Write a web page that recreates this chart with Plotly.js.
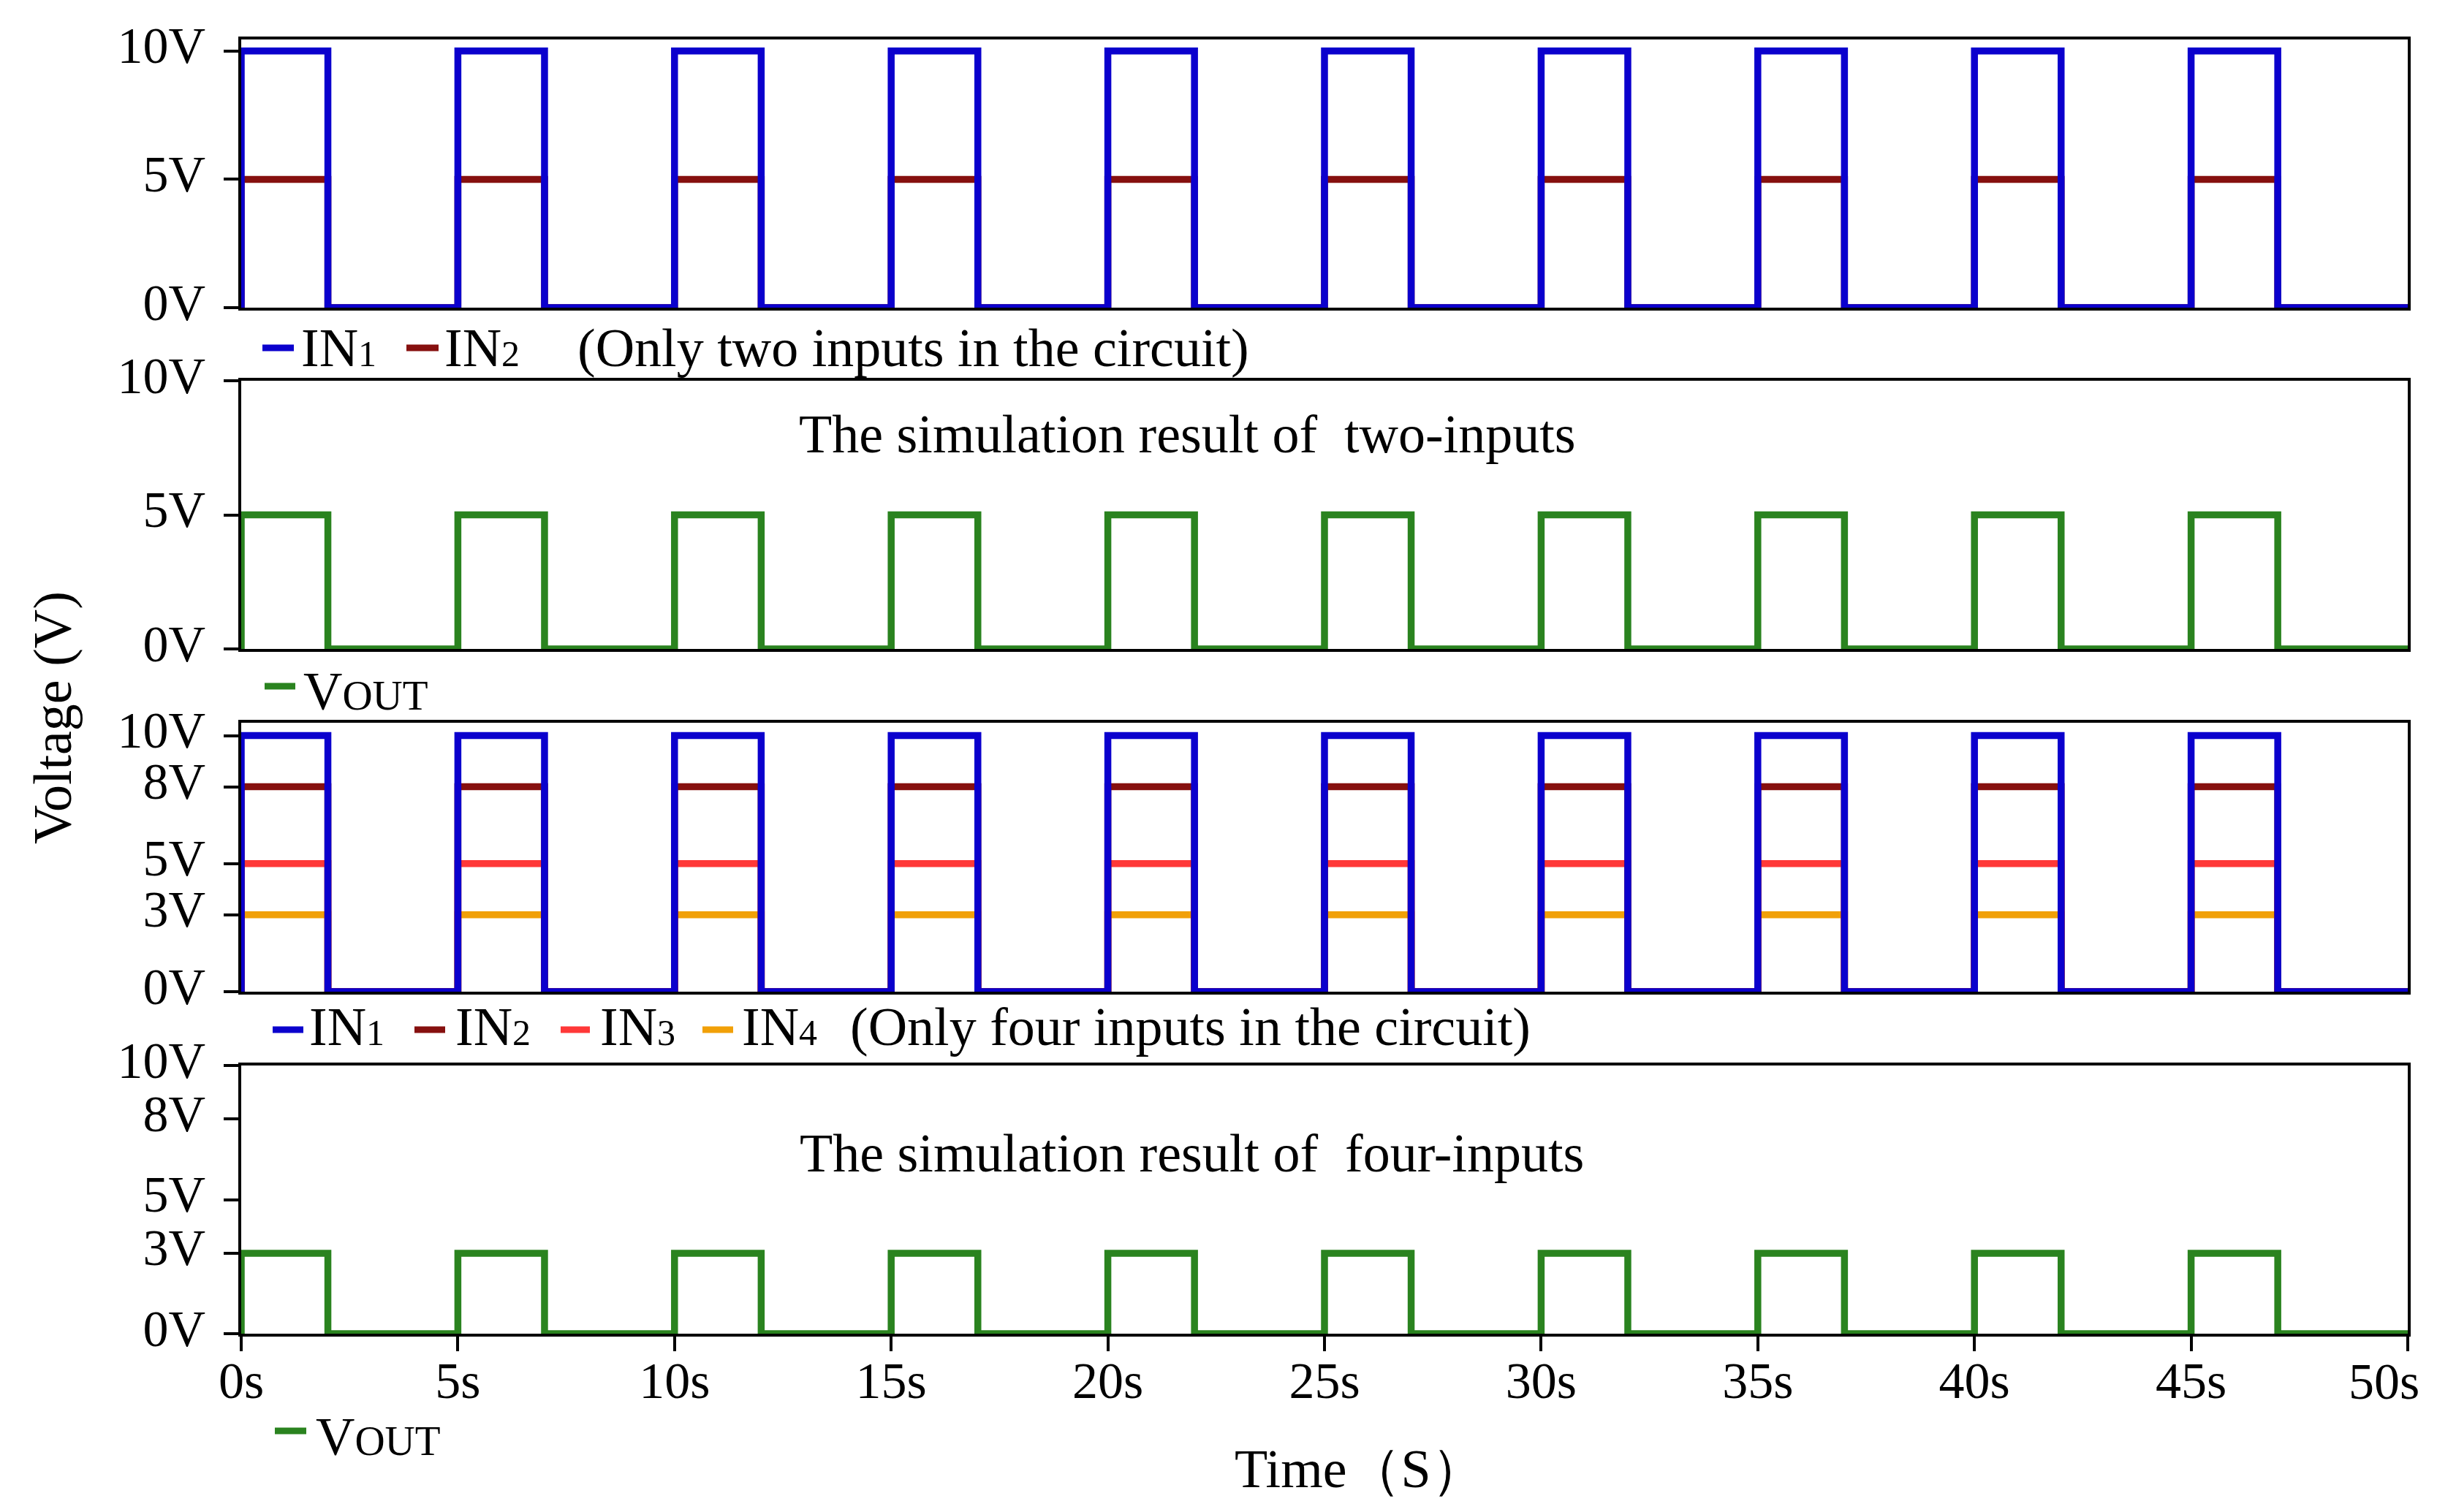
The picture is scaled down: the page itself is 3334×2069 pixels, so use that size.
<!DOCTYPE html>
<html>
<head>
<meta charset="utf-8">
<script src="https://cdn.plot.ly/plotly-3.0.1.min.js"></script>
<style>html,body{margin:0;padding:0;background:#fff;}#chart{width:3334px;height:2069px;}</style>
</head>
<body>
<div id="chart"></div>
<script>
// ---- data ----
const timeS = [0, 0, 2, 5, 7, 10, 12, 15, 17, 20, 22, 25, 27, 30, 32, 35, 37, 40, 42, 45, 47, 50];
// two-input circuit
const in1Two  = [0, 10, 0, 10, 0, 10, 0, 10, 0, 10, 0, 10, 0, 10, 0, 10, 0, 10, 0, 10, 0, 0];
const in2Two  = [0, 5, 0, 5, 0, 5, 0, 5, 0, 5, 0, 5, 0, 5, 0, 5, 0, 5, 0, 5, 0, 0];
const voutTwo = [0, 5, 0, 5, 0, 5, 0, 5, 0, 5, 0, 5, 0, 5, 0, 5, 0, 5, 0, 5, 0, 0];
// four-input circuit
const in1Four  = [0, 10, 0, 10, 0, 10, 0, 10, 0, 10, 0, 10, 0, 10, 0, 10, 0, 10, 0, 10, 0, 0];
const in2Four  = [0, 8, 0, 8, 0, 8, 0, 8, 0, 8, 0, 8, 0, 8, 0, 8, 0, 8, 0, 8, 0, 0];
const in3Four  = [0, 5, 0, 5, 0, 5, 0, 5, 0, 5, 0, 5, 0, 5, 0, 5, 0, 5, 0, 5, 0, 0];
const in4Four  = [0, 3, 0, 3, 0, 3, 0, 3, 0, 3, 0, 3, 0, 3, 0, 3, 0, 3, 0, 3, 0, 0];
const voutFour = [0, 3, 0, 3, 0, 3, 0, 3, 0, 3, 0, 3, 0, 3, 0, 3, 0, 3, 0, 3, 0, 0];
// ticks
const timeTicks = [0, 5, 10, 15, 20, 25, 30, 35, 40, 45, 50];
const timeTickText = ['0s', '5s', '10s', '15s', '20s', '25s', '30s', '35s', '40s', '45s', '50s'];
const voltTicksTwo = [0, 5, 10];
const voltTicksFour = [0, 3, 5, 8, 10];

// ---- style / geometry ----
const W = 3334, H = 2069;
const FONT = 'Liberation Serif, "Times New Roman", Times, serif';
const C = {in1: '#0b00cd', in2: '#86100f', in3: '#ff3838', in4: '#f1a008', vout: '#2a831f'};
const px = x => x / W;
const py = y => 1 - y / H;
const XD = [px(330), px(3294)];
const panels = [
  {top: 54, bottom: 421, range: [0, 10.45], ticks: voltTicksTwo},
  {top: 521, bottom: 888, range: [0, 10], ticks: voltTicksTwo},
  {top: 989, bottom: 1357, range: [0, 10.5], ticks: voltTicksFour},
  {top: 1458, bottom: 1825, range: [0, 10], ticks: voltTicksFour}
];

function line(x, y, color, ax) {
  return {x: x, y: y, type: 'scatter', mode: 'lines', xaxis: 'x' + ax, yaxis: 'y' + ax,
    line: {color: color, width: 9.5, shape: 'hv'}, hoverinfo: 'skip', showlegend: false};
}
const data = [
  line(timeS, in2Two, C.in2, ''),
  line(timeS, in1Two, C.in1, ''),
  line(timeS, voutTwo, C.vout, '2'),
  line(timeS, in4Four, C.in4, '3'),
  line(timeS, in3Four, C.in3, '3'),
  line(timeS, in2Four, C.in2, '3'),
  line(timeS, in1Four, C.in1, '3'),
  line(timeS, voutFour, C.vout, '4')
];

const layout = {
  width: W, height: H,
  margin: {l: 0, r: 0, t: 0, b: 0, pad: 0},
  paper_bgcolor: '#fff', plot_bgcolor: '#fff',
  showlegend: false,
  font: {family: FONT, size: 70, color: '#000'},
  annotations: [], shapes: []
};
const lastLabel = timeTickText[timeTickText.length - 1];
panels.forEach((p, i) => {
  const n = i === 0 ? '' : String(i + 1);
  const last = i === panels.length - 1;
  layout['xaxis' + n] = {
    domain: XD, range: [0, 50], anchor: 'y' + n,
    showline: true, mirror: true, linewidth: 4, linecolor: '#000',
    showgrid: false, zeroline: false, layer: 'below traces',
    ticks: last ? 'outside' : '', ticklen: 20, tickwidth: 4, tickcolor: '#000',
    showticklabels: last, tickvals: timeTicks,
    // the label at the right edge is drawn as an annotation (shifted left as in the reference)
    ticktext: timeTickText.map((t, k) => k === timeTickText.length - 1 ? '' : t),
    ticklabelstandoff: -20,
    tickfont: {family: FONT, size: 70, color: '#000'}
  };
  layout['yaxis' + n] = {
    domain: [py(p.bottom), py(p.top)], range: p.range, anchor: 'x' + n,
    showline: true, mirror: true, linewidth: 4, linecolor: '#000',
    showgrid: false, zeroline: false, layer: 'below traces',
    ticks: 'outside', ticklen: 20, tickwidth: 4, tickcolor: '#000',
    tickvals: p.ticks, ticktext: p.ticks.map(v => v + 'V'),
    ticklabelshift: -8, ticklabelstandoff: 11,
    tickfont: {family: FONT, size: 70, color: '#000'}
  };
});

function note(text, x, y, opts) {
  layout.annotations.push(Object.assign({
    text: text, xref: 'paper', yref: 'paper', x: px(x), y: py(y),
    xanchor: 'left', yanchor: 'middle', showarrow: false,
    font: {family: FONT, size: 74, color: '#000'}
  }, opts || {}));
}
function swatch(x0, x1, y, color) {
  layout.shapes.push({type: 'line', xref: 'paper', yref: 'paper',
    x0: px(x0), x1: px(x1), y0: py(y), y1: py(y), line: {color: color, width: 9}});
}
const sub = s => '<span style="font-size:50px">' + s + '</span>';
const vout = 'V<span style="font-size:57px">OUT</span>';

// row 1 legend
swatch(359, 402, 476, C.in1); note('IN' + sub('1'), 410, 476);
swatch(556, 600, 476, C.in2); note('IN' + sub('2'), 606, 476);
note('(Only two inputs in the circuit)', 788, 476);
// row 2 legend
swatch(362, 404, 939, C.vout); note(vout, 413, 946);
// row 3 legend
swatch(373, 415, 1409, C.in1); note('IN' + sub('1'), 421, 1405);
swatch(567, 609, 1409, C.in2); note('IN' + sub('2'), 621, 1405);
swatch(767, 807, 1409, C.in3); note('IN' + sub('3'), 819, 1405);
swatch(961, 1003, 1409, C.in4); note('IN' + sub('4'), 1013, 1405);
note('(Only four inputs in the circuit)', 1161, 1405);
// row 4 legend
swatch(376, 419, 1958, C.vout); note(vout, 430, 1966);
// last time tick label
note(lastLabel, 3312, 1890, {xanchor: 'right', font: {family: FONT, size: 70, color: '#000'}});
// panel captions
note('The simulation result of\u00a0 two-inputs', 1624, 594, {xanchor: 'center'});
note('The simulation result of\u00a0 four-inputs', 1630, 1578, {xanchor: 'center'});
// axis titles
note('Voltage (V)', 72, 982, {xanchor: 'center', textangle: -90});
note('Time（S）', 1860, 2010, {xanchor: 'center'});

Plotly.newPlot('chart', data, layout, {staticPlot: true, displayModeBar: false});
</script>
</body>
</html>
